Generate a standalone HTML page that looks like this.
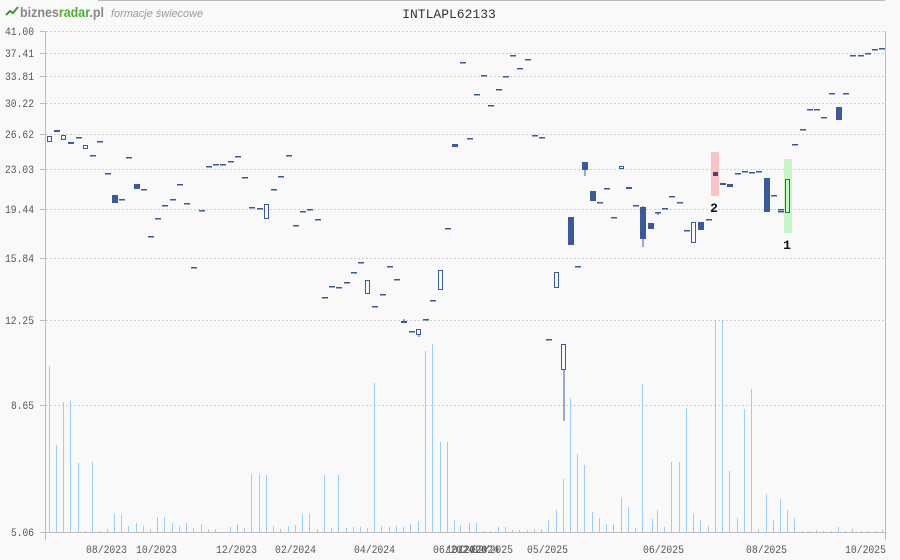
<!DOCTYPE html>
<html><head><meta charset="utf-8"><style>
html,body{margin:0;padding:0;background:#f9f9f9;}
svg{display:block;}
text{font-family:"Liberation Mono","DejaVu Sans Mono",monospace;}
</style></head><body>
<svg id="c" width="900" height="560" xmlns="http://www.w3.org/2000/svg">
<rect width="900" height="560" fill="#f9f9f9"/>
<line x1="98" y1="0.5" x2="885" y2="0.5" stroke="#bbb"/>
<polyline points="6,15 10,11 13,13 18,7" fill="none" stroke="#3a9a2a" stroke-width="2"/>
<text x="20" y="17" font-size="14" font-weight="bold" fill="#888" textLength="84" lengthAdjust="spacingAndGlyphs" style="font-family:'Liberation Sans',sans-serif">biznes<tspan fill="#4caf2a">radar</tspan>.pl</text>
<text x="111" y="17" font-size="11" font-style="italic" fill="#999" textLength="92" lengthAdjust="spacingAndGlyphs" style="font-family:'Liberation Sans',sans-serif">formacje świecowe</text>
<text x="449" y="18" font-size="13" fill="#333" text-anchor="middle">INTLAPL62133</text>
<g id="grid" stroke="#cfcfcf" stroke-dasharray="2,2"></g>
<g id="ylab" font-size="11" fill="#555"></g>
<line x1="45.5" y1="31" x2="45.5" y2="540" stroke="#bbb"/>
<line x1="885.5" y1="31" x2="885.5" y2="540" stroke="#bbb"/>
<line x1="45" y1="532.5" x2="885" y2="532.5" stroke="#bbb"/>
<g id="vol" stroke="#99ccff" stroke-width="1"></g>
<rect x="711" y="152" width="8" height="44" fill="#f9c4c4"/>
<rect x="784" y="159" width="8" height="74" fill="#c4f7c4"/>
<g id="cd"></g>
<text x="714" y="212" font-size="13" font-weight="bold" fill="#111" text-anchor="middle">2</text>
<text x="787" y="249" font-size="13" font-weight="bold" fill="#111" text-anchor="middle">1</text>
<g id="xl" font-size="11" fill="#555"></g>
</svg>
<script>
var NS="http://www.w3.org/2000/svg";
function el(p,t,a){var e=document.createElementNS(NS,t);for(var k in a)e.setAttribute(k,a[k]);document.getElementById(p).appendChild(e);return e;}
var Y=[["41.00",31],["37.41",53],["33.81",76],["30.22",103],["26.62",134],["23.03",169],["19.44",209],["15.84",258],["12.25",320],["8.65",405],["5.06",532]];
Y.forEach(function(y){if(y[1]<532)el("grid","line",{x1:46,y1:y[1]+.5,x2:885,y2:y[1]+.5});
el("grid","line",{x1:40,y1:y[1]+.5,x2:45,y2:y[1]+.5,"stroke-dasharray":"none",stroke:"#bbb"});
var w=y[0].length==5?29:23;
var t=el("ylab","text",{x:34-w,y:y[1]+4,textLength:w,lengthAdjust:"spacingAndGlyphs"});t.textContent=y[0];});
var XL=[["08/2023",86],["10/2023",136],["12/2023",216],["02/2024",275],["04/2024",354],["06/2024",433],["10/2024",446],["12/2024",458],["02/2025",472],["05/2025",527],["06/2025",643],["08/2025",746],["10/2025",845]];
XL.forEach(function(l){var t=el("xl","text",{x:l[1],y:553,textLength:41,lengthAdjust:"spacingAndGlyphs"});t.textContent=l[0];});
var V=[[49,366],[56,445],[63,402],[70,401],[78,463],[85,531],[92,462],[99,531],[107,529],[114,514],[121,514],[128,526],[136,523],[143,526],[150,529],[157,517],[164,517],[172,523],[179,526],[186,523],[193,528],[201,524],[208,529],[215,529],[230,527],[237,524],[244,528],[251,474],[259,474],[266,475],[273,526],[280,529],[288,526],[295,525],[302,514],[309,514],[317,529],[324,475],[331,528],[338,475],[346,528],[353,527],[360,527],[367,528],[374,383],[381,526],[389,527],[396,526],[403,527],[410,524],[418,521],[425,351],[432,344],[440,442],[447,442],[454,520],[460,525],[469,523],[476,523],[483,531],[490,531],[498,527],[505,527],[512,530],[519,530],[527,530],[534,529],[541,529],[548,520],[556,510],[563,479],[570,398],[577,454],[584,465],[592,512],[599,518],[606,524],[613,524],[621,498],[628,507],[635,528],[642,384],[652,519],[657,510],[664,527],[671,462],[679,462],[686,408],[693,514],[700,520],[708,526],[715,320],[722,320],[729,471],[737,518],[744,409],[751,389],[758,529],[766,494],[773,520],[780,499],[787,510],[794,518],[802,531],[809,531],[816,530],[823,531],[831,531],[838,527],[845,531],[852,529],[861,531],[868,531],[875,531],[882,529]];
V.forEach(function(v){el("vol","line",{x1:v[0]+.5,y1:v[1],x2:v[0]+.5,y2:532});});
var C="#3a5a9c";
var D=[[47,136,141,"h"],[54,130,131,"f"],[61,135,139,"h"],[68,142,143,"f"],[76,137,0,"d"],[83,145,148,"h"],[90,155,0,"d"],[97,141,0,"d"],[105,173,0,"d"],[112,195,203,"f"],[119,199,0,"d"],[126,157,0,"d"],[134,184,189,"f"],[141,189,0,"d"],[148,236,0,"d"],[155,218,0,"d"],[162,205,0,"d"],[170,199,0,"d"],[177,184,0,"d"],[184,203,0,"d"],[191,267,0,"d"],[199,210,0,"d"],[206,166,0,"d"],[213,164,0,"d"],[220,164,0,"d"],[228,161,0,"d"],[235,156,0,"d"],[242,177,0,"d"],[249,207,0,"d"],[257,208,0,"d"],[264,204,218,"h"],[271,189,0,"d"],[278,176,0,"d"],[286,155,0,"d"],[293,225,0,"d"],[300,211,0,"d"],[307,209,0,"d"],[315,219,0,"d"],[322,297,0,"d"],[329,286,0,"d"],[336,287,0,"d"],[344,282,0,"d"],[351,272,0,"d"],[358,262,0,"d"],[365,280,293,"h"],[372,306,0,"d"],[380,294,0,"d"],[387,266,0,"d"],[394,279,0,"d"],[401,321,323,"f",319],[409,331,0,"d"],[416,329,334,"h",329,337],[423,319,0,"d"],[430,300,0,"d"],[438,270,289,"h"],[445,228,0,"d"],[452,144,147,"f"],[460,62,0,"d"],[467,138,0,"d"],[474,94,0,"d"],[481,75,0,"d"],[488,105,0,"d"],[496,89,0,"d"],[503,76,0,"d"],[510,55,0,"d"],[517,68,0,"d"],[525,59,0,"d"],[532,135,0,"d"],[539,137,0,"d"],[546,339,0,"d"],[554,272,287,"h"],[561,344,369,"h",344,421],[568,217,245,"f"],[575,266,0,"d"],[582,162,170,"f",162,176],[590,191,201,"f"],[597,202,0,"d"],[604,188,0,"d"],[611,217,0,"d"],[619,166,168,"h"],[626,187,189,"f"],[633,205,0,"d"],[640,207,239,"f",206,247],[648,223,229,"f"],[655,212,0,"d",212,215],[662,208,0,"d"],[669,196,0,"d"],[677,202,0,"d"],[684,230,0,"d"],[691,222,242,"h"],[698,222,230,"f"],[706,219,0,"d"],[720,183,185,"f"],[727,184,187,"f"],[735,173,0,"d"],[742,171,0,"d"],[749,172,0,"d"],[756,171,0,"d"],[764,178,212,"f"],[771,195,0,"d"],[778,209,0,"d"],[778,211,0,"d"],[792,144,0,"d"],[800,129,0,"d"],[807,109,0,"d"],[814,109,0,"d"],[821,117,0,"d"],[829,93,0,"d"],[836,107,120,"f"],[843,93,0,"d"],[850,55,0,"d"],[858,55,0,"d"],[865,53,0,"d"],[872,49,0,"d"],[879,48,0,"d"]];
D.forEach(function(d){var x=d[0],t=d[1],b=d[2],ty=d[3];
if(d[4]!==undefined&&d[5]!==undefined){el("cd","line",{x1:x+3,y1:d[4],x2:x+3,y2:d[5],stroke:C});}
else if(d[4]!==undefined){el("cd","line",{x1:x+3,y1:d[4],x2:x+3,y2:t,stroke:C});}
if(ty=="d")el("cd","rect",{x:x,y:t,width:6,height:1.5,fill:C});
else if(ty=="f")el("cd","rect",{x:x,y:t,width:6,height:Math.max(b-t,2),fill:C});
else el("cd","rect",{x:x+.5,y:t+.5,width:4,height:b-t,fill:"#f9f9f9",stroke:C,"stroke-width":1});});
el("cd","rect",{x:713,y:172,width:5,height:4,fill:"#5a3f6e"});
el("cd","rect",{x:785.5,y:179.5,width:4,height:33,fill:"none",stroke:"#2e6b5a","stroke-width":1});
</script>
</body></html>
